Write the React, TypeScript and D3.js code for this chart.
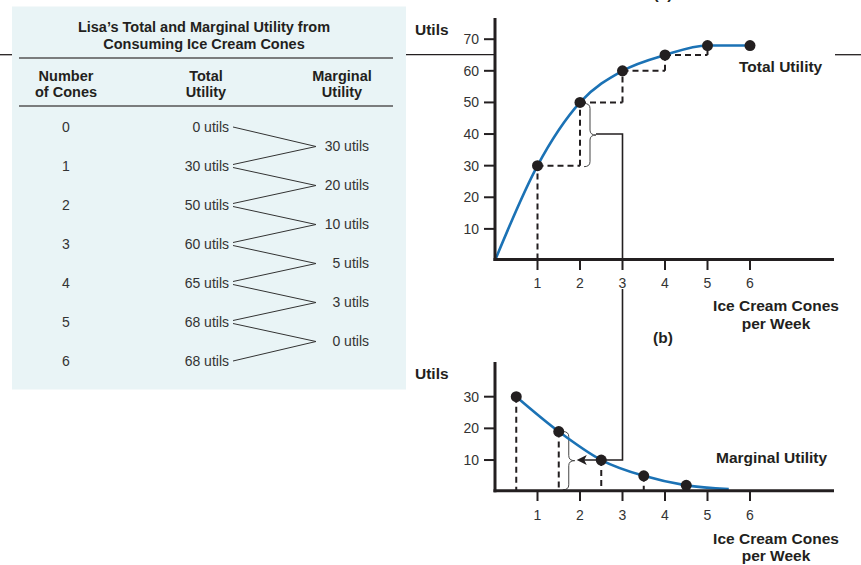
import React from "react";
import * as d3 from "d3";

// ---- data ----
const cones = [0, 1, 2, 3, 4, 5, 6];
const totalUtility = [0, 30, 50, 60, 65, 68, 68];
const marginalUtility = [30, 20, 10, 5, 3, 0];
const muX = [0.5, 1.5, 2.5, 3.5, 4.5];
const muPlotted = [30, 19, 10, 5, 2];
const muCurveX = [0.5, 1.5, 2.5, 3.5, 4.5, 5.5];
const muCurveY = [30, 19, 10, 5, 2, 0.8];
const xTicks = [1, 2, 3, 4, 5, 6];
const tuTicks = [10, 20, 30, 40, 50, 60, 70];
const muTicks = [10, 20, 30];

const FONT = "'Liberation Sans', Arial, Helvetica, sans-serif";
const INK = "#231f20";
const BLUE = "#1b72b5";

// right-pointing curly brace path
function bracePath(x0: number, yTop: number, yBot: number, w: number) {
  const xm = x0 + w / 2;
  const ym = (yTop + yBot) / 2;
  const r = Math.min(5, (yBot - yTop) / 6);
  return [
    `M${x0},${yTop}`,
    `Q${xm},${yTop} ${xm},${yTop + r}`,
    `L${xm},${ym - r}`,
    `Q${xm},${ym} ${x0 + w},${ym}`,
    `Q${xm},${ym} ${xm},${ym + r}`,
    `L${xm},${yBot - r}`,
    `Q${xm},${yBot} ${x0},${yBot}`,
  ].join(" ");
}

export default function App() {
  const x = d3.scaleLinear().domain([0, 6]).range([495, 750]);
  const yT = d3.scaleLinear().domain([0, 70]).range([260.5, 39.2]);
  const yB = d3.scaleLinear().domain([0, 30]).range([491.7, 396.7]);

  const axisX0 = 495;
  const axisXEnd = 834;
  const axisT = 259.5;
  const axisB = 490.8;

  const tuLine = d3
    .line<number>()
    .x((_, i) => x(cones[i]))
    .y((d) => yT(d))
    .curve(d3.curveMonotoneX)(totalUtility) as string;

  const muLine = d3
    .line<number>()
    .x((_, i) => x(muCurveX[i]))
    .y((d) => yB(d))
    .curve(d3.curveMonotoneX)(muCurveY) as string;

  // staircase in top chart
  const stairs: [number, number, number, number][] = [];
  stairs.push([x(1), axisT, x(1), yT(totalUtility[1])]);
  for (let i = 1; i < 5; i++) {
    stairs.push([x(i), yT(totalUtility[i]), x(i + 1), yT(totalUtility[i])]);
    stairs.push([x(i + 1), yT(totalUtility[i]), x(i + 1), yT(totalUtility[i + 1])]);
  }

  // table layout
  const rowY = (i: number) => 127 + i * 39;
  const tblText = { fontFamily: FONT, fontSize: 14, fill: "#333" } as const;
  const bold = { fontFamily: FONT, fontSize: 14.5, fontWeight: 700, fill: INK } as const;
  const lblBold = { fontFamily: FONT, fontSize: 15.5, fontWeight: 700, fill: INK } as const;

  const braceTopY = yT(totalUtility[1]);
  const braceBotY = yT(totalUtility[2]);
  const braceMidT = (braceTopY + braceBotY) / 2;
  const braceMidB = yB(10);

  return (
    <svg
      width={861}
      height={565}
      style={{ position: "absolute", left: 0, top: 0, background: "#fff" }}
    >
      {/* page rule */}
      <line x1={0} x2={12} y1={54.7} y2={54.7} stroke={INK} strokeWidth={1.3} />
      <line x1={406} x2={495} y1={54.7} y2={54.7} stroke={INK} strokeWidth={1.3} />
      <line x1={835} x2={861} y1={54.7} y2={54.7} stroke={INK} strokeWidth={1.3} />

      {/* ---- table ---- */}
      <rect x={12} y={6.5} width={394} height={383} fill="#e9f4f6" />
      <text x={204} y={32} textAnchor="middle" {...bold}>
        Lisa’s Total and Marginal Utility from
      </text>
      <text x={204} y={49} textAnchor="middle" {...bold}>
        Consuming Ice Cream Cones
      </text>
      <line x1={19} x2={393} y1={58} y2={58} stroke="#555" strokeWidth={1.5} />
      <text x={66} y={81} textAnchor="middle" {...bold}>Number</text>
      <text x={66} y={97} textAnchor="middle" {...bold}>of Cones</text>
      <text x={206} y={81} textAnchor="middle" {...bold}>Total</text>
      <text x={206} y={97} textAnchor="middle" {...bold}>Utility</text>
      <text x={342} y={81} textAnchor="middle" {...bold}>Marginal</text>
      <text x={342} y={97} textAnchor="middle" {...bold}>Utility</text>
      <line x1={19} x2={393} y1={106} y2={106} stroke="#555" strokeWidth={1.5} />

      {cones.map((c, i) => (
        <g key={"row" + i}>
          <text x={66} y={rowY(i)} dy="0.35em" textAnchor="middle" {...tblText}>
            {c}
          </text>
          <text x={229} y={rowY(i)} dy="0.35em" textAnchor="end" {...tblText}>
            {totalUtility[i]} utils
          </text>
        </g>
      ))}
      {marginalUtility.map((m, i) => {
        const ym = (rowY(i) + rowY(i + 1)) / 2;
        return (
          <g key={"mu" + i}>
            <line x1={233} y1={rowY(i) + (i === 0 ? 0 : 1.5)} x2={316} y2={ym} stroke="#333" strokeWidth={1} />
            <line x1={233} y1={rowY(i + 1) - (i === 5 ? 0 : 1.5)} x2={316} y2={ym} stroke="#333" strokeWidth={1} />
            <text x={369} y={ym} dy="0.35em" textAnchor="end" {...tblText}>
              {m} utils
            </text>
          </g>
        );
      })}

      {/* ---- chart (a) ---- */}
      <text x={663} y={-1} textAnchor="middle" {...lblBold}>(a)</text>
      <text x={415} y={30} dy="0.35em" {...lblBold}>Utils</text>

      {/* connector: brace -> down to panel (b) */}
      <path
        d={`M${x(2) + 16},${braceMidT} L${x(3)},${braceMidT} L${x(3)},${axisT}`}
        fill="none"
        stroke={INK}
        strokeWidth={1.6}
      />
      <path
        d={`M${x(3)},289 L${x(3)},${braceMidB} L${x(1.5) + 25},${braceMidB}`}
        fill="none"
        stroke={INK}
        strokeWidth={1.6}
      />
      <path
        d={`M${x(1.5) + 18},${braceMidB} l10,-5 l-2.5,5 l2.5,5 z`}
        fill={INK}
      />

      {stairs.map((s, i) => (
        <line
          key={"st" + i}
          x1={s[0]}
          y1={s[1]}
          x2={s[2]}
          y2={s[3]}
          stroke={INK}
          strokeWidth={2}
          strokeDasharray="6 4"
        />
      ))}
      <path
        d={bracePath(x(2) + 4, braceBotY + 1, braceTopY + 1, 12)}
        fill="none"
        stroke="#444"
        strokeWidth={1}
      />

      <path d={tuLine} fill="none" stroke={BLUE} strokeWidth={2.6} />
      {cones.slice(1).map((c) => (
        <circle key={"tp" + c} cx={x(c)} cy={yT(totalUtility[c])} r={5.5} fill={INK} />
      ))}

      {/* axes top */}
      <line x1={axisX0} x2={axisX0} y1={18} y2={axisT + 1.5} stroke={INK} strokeWidth={3} />
      <line x1={axisX0 - 1.5} x2={axisXEnd} y1={axisT} y2={axisT} stroke={INK} strokeWidth={3} />
      {tuTicks.map((t) => (
        <g key={"yt" + t}>
          <line x1={484} x2={axisX0} y1={yT(t)} y2={yT(t)} stroke={INK} strokeWidth={2} />
          <text x={479} y={yT(t)} dy="0.35em" textAnchor="end" {...tblText}>
            {t}
          </text>
        </g>
      ))}
      {xTicks.map((t) => (
        <g key={"xt" + t}>
          <line x1={x(t)} x2={x(t)} y1={axisT} y2={270} stroke={INK} strokeWidth={2} />
          <text x={x(t)} y={283} dy="0.35em" textAnchor="middle" {...tblText}>
            {t}
          </text>
        </g>
      ))}
      <text x={739} y={67} dy="0.35em" {...lblBold}>Total Utility</text>
      <text x={776} y={306} dy="0.35em" textAnchor="middle" {...lblBold}>Ice Cream Cones</text>
      <text x={776} y={323.5} dy="0.35em" textAnchor="middle" {...lblBold}>per Week</text>

      {/* ---- chart (b) ---- */}
      <text x={663} y={338} dy="0.35em" textAnchor="middle" {...lblBold}>(b)</text>
      <text x={415} y={374} dy="0.35em" {...lblBold}>Utils</text>

      {muX.slice(0, 4).map((mx, i) => (
        <line
          key={"mv" + i}
          x1={x(mx)}
          x2={x(mx)}
          y1={yB(muPlotted[i])}
          y2={axisB}
          stroke={INK}
          strokeWidth={2}
          strokeDasharray="6 4"
        />
      ))}
      <path
        d={bracePath(x(1.5) + 4, yB(muPlotted[1]), axisB - 1, 12)}
        fill="none"
        stroke="#444"
        strokeWidth={1}
      />
      <path d={muLine} fill="none" stroke={BLUE} strokeWidth={2.6} />
      {muX.map((mx, i) => (
        <circle key={"mp" + i} cx={x(mx)} cy={yB(muPlotted[i])} r={5.5} fill={INK} />
      ))}

      <line x1={axisX0} x2={axisX0} y1={362} y2={axisB + 1.5} stroke={INK} strokeWidth={3} />
      <line x1={axisX0 - 1.5} x2={axisXEnd} y1={axisB} y2={axisB} stroke={INK} strokeWidth={3} />
      {muTicks.map((t) => (
        <g key={"yb" + t}>
          <line x1={484} x2={axisX0} y1={yB(t)} y2={yB(t)} stroke={INK} strokeWidth={2} />
          <text x={479} y={yB(t)} dy="0.35em" textAnchor="end" {...tblText}>
            {t}
          </text>
        </g>
      ))}
      {xTicks.map((t) => (
        <g key={"xb" + t}>
          <line x1={x(t)} x2={x(t)} y1={axisB} y2={501} stroke={INK} strokeWidth={2} />
          <text x={x(t)} y={515} dy="0.35em" textAnchor="middle" {...tblText}>
            {t}
          </text>
        </g>
      ))}
      <text x={716} y={458} dy="0.35em" {...lblBold}>Marginal Utility</text>
      <text x={776} y={538.5} dy="0.35em" textAnchor="middle" {...lblBold}>Ice Cream Cones</text>
      <text x={776} y={556} dy="0.35em" textAnchor="middle" {...lblBold}>per Week</text>
    </svg>
  );
}
